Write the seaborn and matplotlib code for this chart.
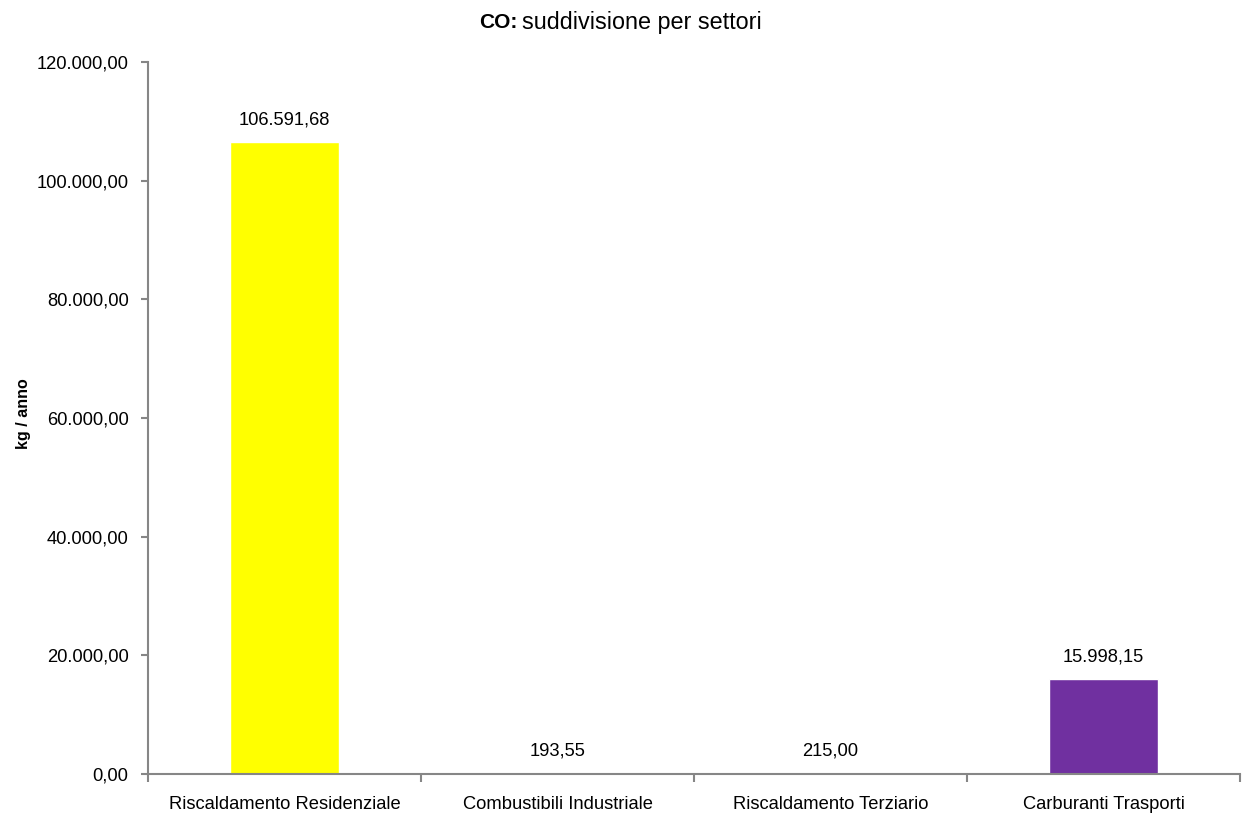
import matplotlib
matplotlib.use("Agg")
import matplotlib.pyplot as plt
import seaborn as sns
import pandas as pd
from matplotlib.ticker import FuncFormatter, FixedLocator

categories = ["Riscaldamento Residenziale", "Combustibili Industriale",
              "Riscaldamento Terziario", "Carburanti Trasporti"]
values = [106591.68, 193.55, 215.00, 15998.15]
colors = ["#FFFF00", "#4F81BD", "#C0504D", "#7030A0"]
yticks = [0, 20000, 40000, 60000, 80000, 100000, 120000]

sns.set_theme(style="white")
plt.rcParams["font.family"] = ["Liberation Sans", "DejaVu Sans"]
plt.rcParams["text.color"] = "#000000"

FS = 13.2

def it_fmt(v):
    s = f"{v:,.2f}"
    return s.replace(",", "X").replace(".", ",").replace("X", ".")

df = pd.DataFrame({"cat": categories, "val": values})

fig = plt.figure(figsize=(12.42, 8.18), dpi=100)
ax = fig.add_axes([0.1192, 0.0538, 0.8792, 0.8704])
sns.barplot(data=df, x="cat", y="val", hue="cat", palette=colors,
            width=0.4, legend=False, ax=ax, saturation=1)

ax.set_ylim(0, 120000)
ax.set_xlim(-0.5, 3.5)
ax.set_yticks(yticks)
ax.yaxis.set_major_formatter(FuncFormatter(lambda v, p: it_fmt(v)))
ax.xaxis.set_minor_locator(FixedLocator([-0.5, 0.5, 1.5, 2.5, 3.5]))
ax.tick_params(axis="x", which="major", length=0, pad=16, labelsize=FS, colors="#000000")
ax.tick_params(axis="x", which="minor", length=6, width=1.5, color="#868686", bottom=True)
ax.tick_params(axis="y", which="major", length=5, width=1.5, color="#868686", left=True,
               labelsize=FS, pad=9, labelcolor="#000000")

for side in ["top", "right"]:
    ax.spines[side].set_visible(False)
for side in ["left", "bottom"]:
    ax.spines[side].set_color("#868686")
    ax.spines[side].set_linewidth(1.5)

ax.set_xlabel("")
ax.set_ylabel("kg / anno", fontsize=11.5, fontweight="bold", color="#000000")
ax.yaxis.set_label_coords(-0.107, 0.506)

for i, v in enumerate(values):
    ax.annotate(it_fmt(v), (i, v), xytext=(0, 9.5), textcoords="offset points",
                ha="center", va="bottom", fontsize=FS, color="#000000")

fig.text(0.4165, 0.973, "CO:", ha="right", va="center", fontsize=15, fontweight="bold",
         color="#000000")
fig.text(0.4205, 0.973, "suddivisione per settori", ha="left", va="center", fontsize=16.8,
         color="#000000")

fig.savefig("out.png", dpi=100)
